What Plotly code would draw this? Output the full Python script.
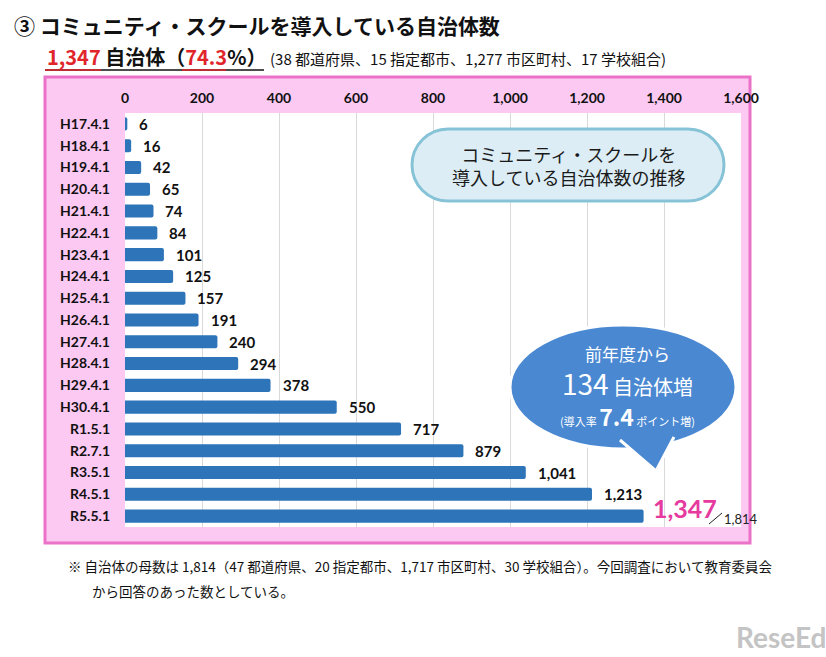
import plotly.graph_objects as go

# ---------------- data ----------------
categories = ["H17.4.1", "H18.4.1", "H19.4.1", "H20.4.1", "H21.4.1", "H22.4.1",
              "H23.4.1", "H24.4.1", "H25.4.1", "H26.4.1", "H27.4.1", "H28.4.1",
              "H29.4.1", "H30.4.1", "R1.5.1", "R2.7.1", "R3.5.1", "R4.5.1", "R5.5.1"]
values = [6, 16, 42, 65, 74, 84, 101, 125, 157, 191, 240, 294, 378, 550, 717,
          879, 1041, 1213, 1347]
total_count = 1814
x_ticks = [0, 200, 400, 600, 800, 1000, 1200, 1400, 1600]

# ---------------- layout helpers ----------------
W, H = 826, 657
L, R, T, B = 125, 85, 113, 130
PW, PH = W - L - R, H - T - B
JP = "Noto Sans CJK JP"
NUM = "Lato"


def px(x):
    return (x - L) / PW


def py(y):
    return (H - B - y) / PH


def pt(x, y):
    return f"{px(x):.5f},{py(y):.5f}"


fig = go.Figure()
fig.add_trace(go.Bar(
    x=values, y=categories, orientation="h",
    marker=dict(color="#2e74b8", cornerradius=2, line=dict(width=0)),
    hoverinfo="skip",
))

shapes = []
# pink frame
shapes.append(dict(type="rect", xref="paper", yref="paper", layer="below",
                   x0=px(45), x1=px(750), y0=py(543), y1=py(77),
                   fillcolor="#fcc9f3", line=dict(color="#ea72c8", width=3)))
# white plot area
shapes.append(dict(type="rect", xref="paper", yref="paper", layer="below",
                   x0=0, x1=1, y0=0, y1=1,
                   fillcolor="white", line=dict(width=0)))

# light blue pill box
x0, x1, y0, y1 = 412, 724, 129, 201
r = (y1 - y0) / 2
ym = (y0 + y1) / 2
k = 0.5523 * r
pill = (f"M{pt(x0 + r, y0)} L{pt(x1 - r, y0)} "
        f"C{pt(x1 - r + k, y0)} {pt(x1, ym - k)} {pt(x1, ym)} "
        f"C{pt(x1, ym + k)} {pt(x1 - r + k, y1)} {pt(x1 - r, y1)} "
        f"L{pt(x0 + r, y1)} "
        f"C{pt(x0 + r - k, y1)} {pt(x0, ym + k)} {pt(x0, ym)} "
        f"C{pt(x0, ym - k)} {pt(x0 + r - k, y0)} {pt(x0 + r, y0)} Z")
shapes.append(dict(type="path", xref="paper", yref="paper", path=pill,
                   fillcolor="#dcedf5", line=dict(color="#86c3d7", width=3)))

# speech bubble
shapes.append(dict(type="circle", xref="paper", yref="paper",
                   x0=px(510), x1=px(736), y0=py(449), y1=py(325),
                   fillcolor="#4a88d2", line=dict(color="white", width=3)))
shapes.append(dict(type="path", xref="paper", yref="paper",
                   path=f"M{pt(620, 440)} L{pt(656, 471)} L{pt(674, 437)}",
                   fillcolor="#4a88d2", line=dict(color="white", width=3)))

# underlines of subtitle
shapes.append(dict(type="line", xref="paper", yref="paper",
                   x0=px(45), x1=px(264), y0=py(70), y1=py(70),
                   line=dict(color="#111", width=1.5)))
shapes.append(dict(type="line", xref="paper", yref="paper",
                   x0=px(45), x1=px(101), y0=py(70), y1=py(70),
                   line=dict(color="#e0262b", width=1.5)))
shapes.append(dict(type="line", xref="paper", yref="paper",
                   x0=px(182), x1=px(226), y0=py(70), y1=py(70),
                   line=dict(color="#e0262b", width=1.5)))
# slash before total
shapes.append(dict(type="line", xref="paper", yref="paper",
                   x0=px(709), x1=px(722), y0=py(524), y1=py(513),
                   line=dict(color="#222", width=1)))

annotations = []
# value labels
for c, v in zip(categories[:-1], values[:-1]):
    annotations.append(dict(x=v, y=c, xref="x", yref="y", text=f"{v:,}",
                            xanchor="left", yanchor="middle", xshift=10,
                            showarrow=False,
                            font=dict(family=NUM, size=15, color="#111", weight="bold")))
annotations.append(dict(x=values[-1], y=categories[-1], xref="x", yref="y",
                        text=f"{values[-1]:,}", xanchor="left", yanchor="middle",
                        xshift=7, yshift=8, showarrow=False,
                        font=dict(family=NUM, size=25, color="#e63a9e", weight="bold")))
annotations.append(dict(x=px(722), y=py(519), xref="paper", yref="paper",
                        text=f"{total_count:,}", xanchor="left", yanchor="middle",
                        showarrow=False,
                        font=dict(family=NUM, size=13, color="#222")))

# titles
annotations.append(dict(x=px(12), y=py(25), xref="paper", yref="paper",
                        text="<b>③ コミュニティ・スクールを導入している自治体数</b>",
                        xanchor="left", yanchor="middle", showarrow=False,
                        font=dict(family=JP, size=21, color="#111")))
annotations.append(dict(x=px(45), y=py(56), xref="paper", yref="paper",
                        text=("<b><span style='color:#e0262b'>1,347</span> 自治体（"
                              "<span style='color:#e0262b'>74.3</span>%）</b>"),
                        xanchor="left", yanchor="middle", showarrow=False,
                        font=dict(family=JP, size=20, color="#111")))
annotations.append(dict(x=px(268), y=py(58), xref="paper", yref="paper",
                        text="(38 都道府県、15 指定都市、1,277 市区町村、17 学校組合)",
                        xanchor="left", yanchor="middle", showarrow=False,
                        font=dict(family=JP, size=15, color="#111")))
# footnote
annotations.append(dict(x=px(66), y=py(566), xref="paper", yref="paper",
                        text="※ 自治体の母数は 1,814（47 都道府県、20 指定都市、1,717 市区町村、30 学校組合）。今回調査において教育委員会",
                        xanchor="left", yanchor="middle", showarrow=False,
                        font=dict(family=JP, size=13.5, color="#111")))
annotations.append(dict(x=px(90), y=py(591), xref="paper", yref="paper",
                        text="から回答のあった数としている。",
                        xanchor="left", yanchor="middle", showarrow=False,
                        font=dict(family=JP, size=13.5, color="#111")))

# pill text
annotations.append(dict(x=px(568), y=py(165), xref="paper", yref="paper",
                        text="コミュニティ・スクールを<br>導入している自治体数の推移",
                        xanchor="center", yanchor="middle", showarrow=False,
                        align="center",
                        font=dict(family=JP, size=18, color="#1a1a1a")))

# bubble text
annotations.append(dict(x=px(627), y=py(353), xref="paper", yref="paper",
                        text="前年度から", xanchor="center", yanchor="middle",
                        showarrow=False, font=dict(family=JP, size=17, color="white")))
annotations.append(dict(x=px(627), y=py(383), xref="paper", yref="paper",
                        text="<span style='font-size:28px'>134</span> 自治体増",
                        xanchor="center", yanchor="middle",
                        showarrow=False, font=dict(family=JP, size=20, color="white")))
annotations.append(dict(x=px(627), y=py(416), xref="paper", yref="paper",
                        text="(導入率 <span style='font-size:23px'><b>7.4</b></span> ポイント増)",
                        xanchor="center", yanchor="middle",
                        showarrow=False, font=dict(family=JP, size=11, color="white")))

# watermark
annotations.append(dict(x=px(781), y=py(637), xref="paper", yref="paper",
                        text="<b>ReseEd</b>", xanchor="center", yanchor="middle",
                        showarrow=False, font=dict(family=NUM, size=28, color="#c4c4c4")))

fig.update_layout(
    width=W, height=H,
    margin=dict(l=L, r=R, t=T, b=B, pad=0),
    paper_bgcolor="white",
    plot_bgcolor="rgba(0,0,0,0)",
    showlegend=False,
    bargap=0.4,
    shapes=shapes,
    annotations=annotations,
    xaxis=dict(side="top", range=[0, 1600], tickvals=x_ticks,
               ticktext=[f"{v:,}" for v in x_ticks],
               showgrid=True, gridcolor="#d9d9d9", gridwidth=1,
               zeroline=False, showline=False, ticks="",
               ticklabelstandoff=6,
               tickfont=dict(family=NUM, size=14, color="#111", weight="bold")),
    yaxis=dict(range=[len(categories) - 0.5, -0.5], autorange=False,
               showgrid=False, zeroline=False,
               showline=False, ticks="", ticklabelstandoff=14,
               tickfont=dict(family=NUM, size=14, color="#111", weight="bold")),
)

fig.write_html("out.html")
